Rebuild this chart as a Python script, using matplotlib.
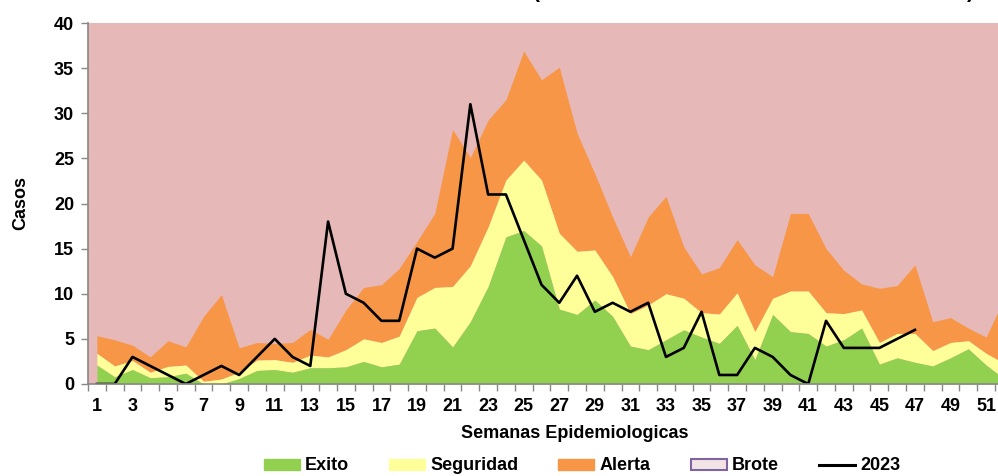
import numpy as np
import matplotlib
matplotlib.use('Agg')
from matplotlib import pyplot as plt
from matplotlib.patches import Patch
from matplotlib.lines import Line2D

# Canal endemico: limites acumulados por semana (Exito / Seguridad / Alerta)
semanas = np.arange(1, 53)
exito = [2.1, 0.8, 1.6, 0.7, 0.8, 1.2, 0.0, 0.0, 0.6, 1.5,
         1.6, 1.3, 1.8, 1.8, 1.9, 2.5, 1.9, 2.2, 5.9, 6.2,
         4.1, 6.9, 10.8, 16.3, 17.0, 15.3, 8.3, 7.7, 9.3, 7.5,
         4.2, 3.8, 4.9, 6.0, 5.2, 4.5, 6.5, 2.7, 7.7, 5.8,
         5.6, 4.2, 4.9, 6.2, 2.2, 2.9, 2.4, 2.0, 2.9, 3.9,
         2.1, 0.6]
seguridad = [3.4, 2.0, 2.6, 1.3, 1.95, 2.1, 0.3, 0.55, 1.3, 2.65,
             2.7, 2.4, 3.2, 3.0, 3.8, 5.0, 4.6, 5.3, 9.6, 10.7,
             10.8, 13.1, 17.4, 22.6, 24.8, 22.6, 16.7, 14.7, 14.85, 11.9,
             7.8, 8.75, 10.0, 9.5, 7.9, 7.75, 10.1, 5.8, 9.5, 10.3,
             10.3, 7.9, 7.8, 8.2, 4.6, 5.6, 5.6, 3.7, 4.6, 4.8,
             3.4, 2.3]
alerta = [5.35, 4.9, 4.3, 3.0, 4.8, 4.1, 7.5, 9.9, 4.0, 4.6,
          4.5, 4.6, 6.05, 4.95, 8.2, 10.7, 11.0, 12.8, 15.8, 18.9,
          28.2, 25.1, 29.25, 31.5, 36.9, 33.7, 35.1, 27.8, 23.3, 18.5,
          14.1, 18.5, 20.8, 15.2, 12.2, 12.9, 16.0, 13.2, 11.9, 18.9,
          18.9, 15.0, 12.6, 11.1, 10.6, 10.9, 13.2, 6.9, 7.35, 6.2,
          5.2, 9.4]
brote_max = 40

casos_2023 = [0, 0, 3, 2, 1, 0, 1, 2, 1, 3,
              5, 3, 2, 18, 10, 9, 7, 7, 15, 14,
              15, 31, 21, 21, 16, 11, 9, 12, 8, 9,
              8, 9, 3, 4, 8, 1, 1, 4, 3, 1,
              0, 7, 4, 4, 4, 5, 6]

c_exito = '#92D050'
c_seg = '#FFFF99'
c_alerta = '#F79646'
c_brote = '#E6B9B8'
gris = '#888888'
fs = 13

plt.rcParams['font.family'] = ['Liberation Sans', 'DejaVu Sans']
plt.rcParams['font.weight'] = 'bold'

fig = plt.figure(figsize=(9.98, 4.76), dpi=100)
ax = fig.add_axes([88 / 998, 1 - 384 / 476, 1 - 88 / 998, (384 - 23) / 476])
ax.set_facecolor(c_brote)

ax.fill_between(semanas, alerta, brote_max, color=c_brote, lw=0)
ax.fill_between(semanas, seguridad, alerta, color=c_alerta, lw=0)
ax.fill_between(semanas, exito, seguridad, color=c_seg, lw=0)
ax.fill_between(semanas, 0, exito, color=c_exito, lw=0)
ax.plot(semanas[:len(casos_2023)], casos_2023, color='black', lw=1.9)

ax.set_xlim(0.5, 51.67)
ax.set_ylim(0, 40)
ax.set_yticks(np.arange(0, 41, 5))
ax.set_xticks(np.arange(1, 52, 2))
ax.set_xticks(np.arange(0.5, 52, 1), minor=True)
ax.tick_params(axis='x', which='major', length=0, pad=10, labelsize=fs)
ax.tick_params(axis='x', which='minor', length=5, color=gris, width=1)
ax.tick_params(axis='y', length=5, color=gris, width=1, labelsize=fs, pad=5)
for lab in ax.get_xticklabels() + ax.get_yticklabels():
    lab.set_fontweight('bold')
for s in ['top', 'right']:
    ax.spines[s].set_visible(False)
for s in ['left', 'bottom']:
    ax.spines[s].set_color(gris)
    ax.spines[s].set_linewidth(1.2)
ax.set_axisbelow(False)

ax.set_ylabel('Casos', fontsize=fs, fontweight='bold', labelpad=18)
fig.text(575 / 998, 1 - 434 / 476, 'Semanas Epidemiologicas', ha='center',
         va='center', fontsize=fs, fontweight='bold')

# titulo recortado en el borde superior
fig.text(537 / 998, 1 + 2 / 476, '(', ha='center', va='baseline',
         fontsize=15, fontweight='bold')
fig.text(970 / 998, 1 + 2 / 476, ')', ha='center', va='baseline',
         fontsize=15, fontweight='bold')

handles = [Patch(facecolor=c_exito, edgecolor=c_exito),
           Patch(facecolor=c_seg, edgecolor=c_seg),
           Patch(facecolor=c_alerta, edgecolor=c_alerta),
           Patch(facecolor='#F2E4E4', edgecolor='#8064A2', lw=1.5),
           Line2D([0], [0], color='black', lw=2.2)]
labels = ['Exito', 'Seguridad', 'Alerta', 'Brote', '2023']
fig.legend(handles, labels, loc='center', ncol=5, frameon=False,
           bbox_to_anchor=(582 / 998, 1 - 466 / 476),
           prop={'weight': 'bold', 'size': fs}, handlelength=2.0,
           handleheight=0.55, handletextpad=0.3, columnspacing=2.2)

fig.savefig('out.png', dpi=100)
